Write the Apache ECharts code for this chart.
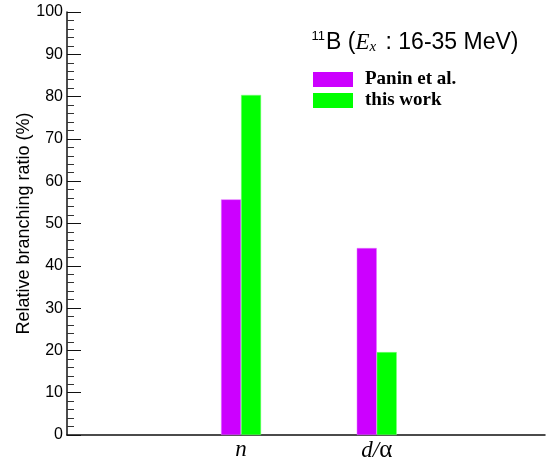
<!DOCTYPE html>
<html><head><meta charset="utf-8">
<script src="https://cdn.jsdelivr.net/npm/echarts@6/dist/echarts.min.js"></script>
<style>html,body{margin:0;padding:0;background:#fff}#c{width:547px;height:457px}</style>
</head><body><div id="c"></div>
<script>
const categories = ['n', 'd/α'];
const seriesNames = ['Panin et al.', 'this work'];
const paninValues = [55.7, 44.2];
const thisWorkValues = [80.4, 19.6];
const yTicks = [0, 10, 20, 30, 40, 50, 60, 70, 80, 90, 100];

const chart = echarts.init(document.getElementById('c'), null, {renderer: 'canvas'});
const axisLineStyle = {color: '#111', width: 1.5};
chart.setOption({
  animation: false,
  backgroundColor: '#fff',
  title: {
    left: 410, top: 25, textAlign: 'center',
    text: '{sup|11}{b|B (}{e|E}{sub|x}{b| : 16-35 MeV)}',
    textStyle: {
      fontWeight: 'normal',
      rich: {
        sup: {fontFamily: 'Liberation Sans', fontWeight: 'normal', fontSize: 13, color: '#000', verticalAlign: 'top', padding: [0, 1, 10, 0]},
        b: {fontFamily: 'Liberation Sans', fontWeight: 'normal', fontSize: 23, color: '#000'},
        e: {fontFamily: 'Liberation Serif', fontWeight: 'normal', fontStyle: 'italic', fontSize: 23, color: '#000'},
        sub: {fontFamily: 'Liberation Serif', fontWeight: 'normal', fontStyle: 'italic', fontSize: 15, color: '#000', padding: [10, 3, 0, 0]}
      }
    }
  },
  legend: {
    orient: 'vertical', left: 308, top: 65,
    itemWidth: 40, itemHeight: 15, itemGap: 2,
    icon: 'rect',
    data: seriesNames,
    itemStyle: {borderWidth: 0},
    textStyle: {fontFamily: 'Liberation Serif', fontWeight: 'bold', fontSize: 19, lineHeight: 15, color: '#000', padding: [0, 0, 0, 7]}
  },
  grid: [
    {left: 67, right: 2, top: 12, bottom: 22, outerBoundsMode: 'none', containLabel: false},
    {left: 173.2, width: 271.4, top: 12, bottom: 22, outerBoundsMode: 'none', containLabel: false}
  ],
  xAxis: [
    {gridIndex: 0, type: 'value', min: 0, max: 1, axisLine: {show: true, lineStyle: axisLineStyle},
     axisTick: {show: false}, axisLabel: {show: false}, splitLine: {show: false}},
    {gridIndex: 1, type: 'category', data: categories, axisLine: {show: false}, axisTick: {show: false},
     splitLine: {show: false},
     axisLabel: {margin: 3, fontFamily: 'Liberation Serif', fontSize: 22, color: '#000',
       formatter: v => v === 'd/α' ? '{i|d/}{u|α}' : '{i|' + v + '}',
       rich: {
         i: {fontFamily: 'Liberation Serif', fontStyle: 'italic', fontSize: 23, color: '#000'},
         u: {fontFamily: 'Liberation Serif', fontStyle: 'normal', fontSize: 25, color: '#000'}
       }}}
  ],
  yAxis: [
    {gridIndex: 0, type: 'value', min: 0, max: 100, interval: 10,
     name: 'Relative branching ratio (%)', nameLocation: 'middle', nameRotate: 90, nameGap: 34,
     nameMoveOverlap: false,
     nameTextStyle: {fontFamily: 'Liberation Sans', fontSize: 18, color: '#000'},
     axisLine: {show: true, lineStyle: axisLineStyle},
     axisTick: {show: true, inside: true, length: 14, lineStyle: {color: '#111', width: 1}},
     minorTick: {show: true, splitNumber: 5, length: 7, lineStyle: {color: '#333', width: 1}},
     axisLabel: {margin: 4, fontFamily: 'Liberation Sans', fontSize: 16, color: '#000',
       formatter: v => yTicks.includes(v) ? String(v) : ''},
     splitLine: {show: false}},
    {gridIndex: 1, type: 'value', min: 0, max: 100, show: false}
  ],
  series: [
    {name: seriesNames[0], type: 'bar', xAxisIndex: 1, yAxisIndex: 1, data: paninValues,
     barWidth: 20, barGap: '0%', itemStyle: {color: '#cc00ff', borderColor: '#e07aff', borderWidth: 0.5}},
    {name: seriesNames[1], type: 'bar', xAxisIndex: 1, yAxisIndex: 1, data: thisWorkValues,
     barWidth: 20, barGap: '0%', itemStyle: {color: '#00ff00', borderColor: '#80ff80', borderWidth: 0.5}}
  ]
});
</script></body></html>
